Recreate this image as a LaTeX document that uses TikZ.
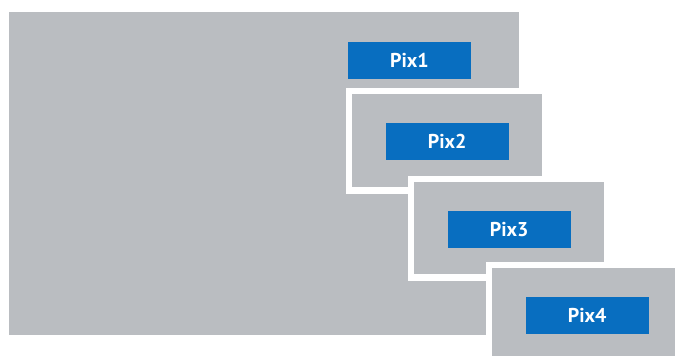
\documentclass[tikz,border=0pt]{standalone}
\usepackage{fontspec}
\setmainfont{PT Sans}
\usepackage{tikz}
\usetikzlibrary{positioning}
\definecolor{panelGray}{RGB}{186,189,193}
\definecolor{pixBlue}{RGB}{8,110,192}

\begin{document}
\begin{tikzpicture}[x=1pt,y=-1pt,
  pixbox/.style={fill=pixBlue, text=white, minimum width=123pt, minimum height=37pt,
    inner sep=0pt, font=\fontsize{20}{20}\selectfont\bfseries}]
\useasboundingbox (0,0) rectangle (675,356);
% back panel
\fill[panelGray] (9,12) rectangle (519,335);
\node[pixbox] (pix1) at (409.5,60.5) {Pix1};
% stacked panels with white frame
\foreach \px/\py/\pw/\ph/\n in {352/94/190/93/2, 414/182/190/92/3, 492/268/200/100/4}{
  \fill[white] (\px-6.5,\py-6.5) rectangle ++(\pw+13,\ph+13);
  \fill[panelGray] (\px,\py) rectangle ++(\pw,\ph);
  \node[pixbox, anchor=north west] (pix\n) at (\px+33.5,\py+28.5) {Pix\n};
}
\end{tikzpicture}
\end{document}
